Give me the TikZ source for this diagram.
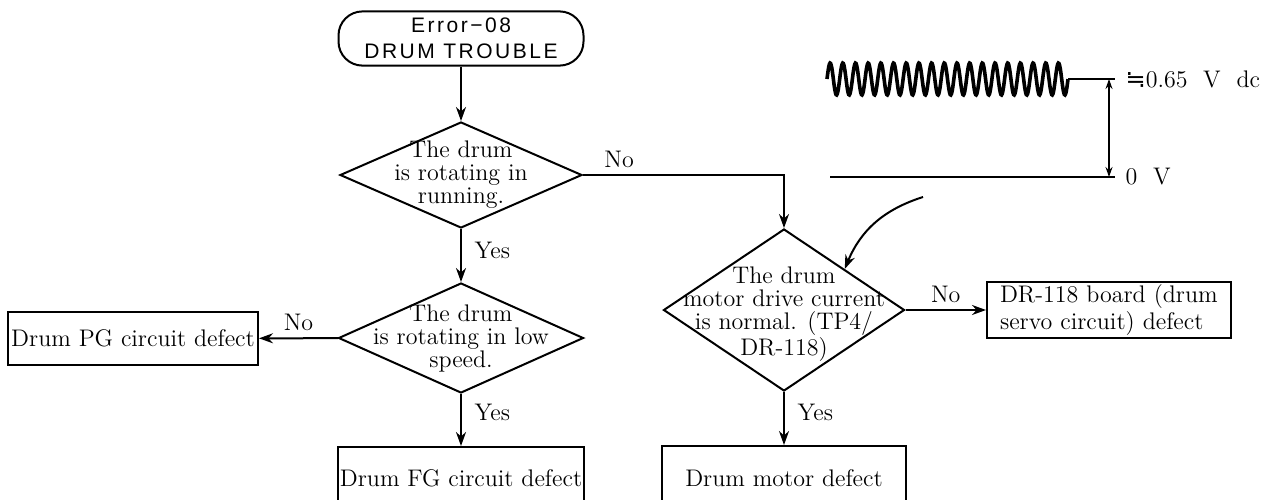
\documentclass[tikz,border=0pt]{standalone}
\usepackage{fontspec}
\usepackage{tikz}
\usetikzlibrary{
	arrows.meta,
	shapes.geometric
}
\newfontfamily\termfont{Liberation Sans}[LetterSpace=12]
\newfontfamily\symfont{DejaVu Sans}

\begin{document}
\begin{tikzpicture}[x=0.5pt, y=-0.5pt, line width=1pt,
		font=\fontsize{12}{11.5}\selectfont,
		decision/.style={draw, diamond, inner sep=0pt},
		outcome/.style={draw, rectangle, align=center, inner sep=1pt, minimum width=122pt, minimum height=27pt},
		term/.style={draw, rounded corners=12pt, align=center, minimum width=122.5pt, minimum height=26.5pt, font={\fontsize{10.5}{13}\termfont}},
		flow/.style={-{Stealth[length=7pt,width=5pt]}}]
			\useasboundingbox (0,0) rectangle (1263,499);
			\node[term] (start) at (461,38.5) {Error−08\\DRUM TROUBLE};
			\node[decision, minimum width=121pt, minimum height=53pt,
				label={[align=center]center:The drum\\is rotating in\\running.}] (rot) at (461,175) {};
			\node[decision, minimum width=122.5pt, minimum height=55pt,
				label={[align=center]center:The drum\\is rotating in low\\speed.}] (low) at (461,338) {};
			\node[decision, minimum width=120.5pt, minimum height=81pt,
				label={[align=center, yshift=-2pt]center:The drum\\motor drive current\\is normal. (TP4/\\DR-118)}] (cur) at (784,310) {};
			\node[outcome, minimum width=125pt, minimum height=26.5pt] (pg) at (133,338.5) {Drum PG circuit defect};
			\node[outcome, minimum height=31.5pt] (fg) at (461,478.5) {Drum FG circuit defect};
			\node[outcome, minimum height=32pt] (motor) at (784,478) {Drum motor defect};
			\node[outcome, align=left, text width=109pt, inner xsep=6.5pt, minimum height=28pt] (board) at (1109,310)
				{DR-118 board (drum\\servo circuit) defect};
			\draw[flow] (start) -- (rot);
			\draw[flow] (rot.east) -| node[pos=0.09, above] {No} (cur.north);
			\draw[flow] (rot) -- node[pos=0.4, right=3pt] {Yes} (low);
			\draw[flow] (low) -- node[above] {No} (pg);
			\draw[flow] (low) -- node[pos=0.35, right=3pt] {Yes} (fg);
			\draw[flow] (cur) -- node[above] {No} (board);
			\draw[flow] (cur) -- node[pos=0.38, right=3pt] {Yes} (motor);
			\draw[line width=1.8pt] plot[domain=0:241, samples=400, smooth] ({827+\x}, {79-16*sin(28.38*\x)});
			\draw (1068,79) -- (1115,79);
			\draw (830,177) -- (1115,177);
			\coordinate (level) at (1109,79);
			\coordinate (zero) at (1109,177);
			\draw[line width=0.7pt, {Stealth[length=5pt,width=3.5pt]}-{Stealth[length=5pt,width=3.5pt]}] (level) -- (zero);
			\node[right] (vdc) at (1118,79) {{\symfont ≒}0.65\ \ V\ \ dc};
			\node[right] (vzero) at (1118,177) {0\ \ V};
			\coordinate (probe) at (923,197);
			\draw[flow] (probe) to[bend right=25] (cur.north east);
		\end{tikzpicture}
\end{document}
